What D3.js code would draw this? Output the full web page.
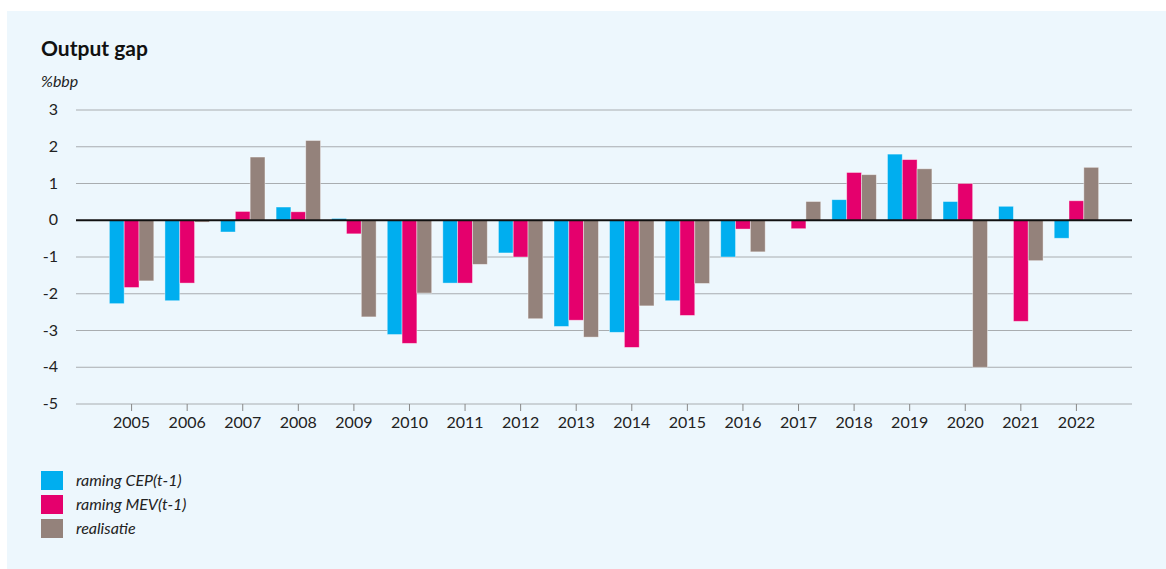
<!DOCTYPE html>
<html lang="nl">
<head>
<meta charset="UTF-8">
<title>Output gap</title>
<script src="https://d3js.org/d3.v7.min.js"></script>
<style>
  body { margin: 0; background: #fff; }
  svg { display: block; font-family: Lato, "Noto Sans", sans-serif; }
</style>
</head>
<body>
<svg width="1166" height="569" id="mainsvg"></svg>
<script>
// data
const years = ['2005','2006','2007','2008','2009','2010','2011','2012','2013','2014','2015','2016','2017','2018','2019','2020','2021','2022'];
const ramingCEP = [-2.27, -2.19, -0.32, 0.36, 0.05, -3.11, -1.71, -0.89, -2.89, -3.05, -2.19, -1.0, 0, 0.56, 1.80, 0.51, 0.38, -0.49];
const ramingMEV = [-1.83, -1.71, 0.24, 0.23, -0.37, -3.35, -1.71, -1.0, -2.72, -3.46, -2.59, -0.24, -0.23, 1.30, 1.65, 1.0, -2.75, 0.53];
const realisatie = [-1.65, -0.05, 1.72, 2.17, -2.63, -1.98, -1.2, -2.68, -3.18, -2.33, -1.72, -0.86, 0.51, 1.24, 1.40, -4.0, -1.10, 1.44];
const seriesNames = ['raming CEP(t-1)', 'raming MEV(t-1)', 'realisatie'];
const colors = ['#00aeef', '#e5006d', '#94827b'];
const yTicks = [3, 2, 1, 0, -1, -2, -3, -4, -5];

const svg = d3.select('#mainsvg');
const width = +svg.attr('width');
const height = +svg.attr('height');

// achtergrondpaneel
svg.append('rect')
  .attr('x', 7).attr('y', 11)
  .attr('width', width - 7).attr('height', height - 11)
  .attr('fill', '#edf7fd');

const margin = {top: 110, right: 34, bottom: 165, left: 76};
const innerWidth = width - margin.left - margin.right;
const innerHeight = 404 - margin.top;

const g = svg.append('g').attr('transform', `translate(${margin.left},${margin.top})`);

const yScale = d3.scaleLinear().domain([-5, 3]).range([innerHeight, 0]);
const xScale = d3.scaleBand().domain(years).range([0, innerWidth]).paddingInner(0).paddingOuter(0.5);
const xSub = d3.scaleBand().domain(d3.range(3)).range([0, xScale.bandwidth() * 0.8]);

// gridlijnen
g.append('g').selectAll('line').data(yTicks.filter(d => d !== 0)).join('line')
  .attr('x1', 0).attr('x2', innerWidth)
  .attr('y1', d => yScale(d)).attr('y2', d => yScale(d))
  .attr('stroke', '#a9adb0').attr('stroke-width', 1);

// y-as labels
g.append('g').selectAll('text').data(yTicks).join('text')
  .attr('x', -18).attr('y', d => yScale(d) + 5)
  .attr('text-anchor', 'end')
  .attr('font-size', 16)
  .attr('fill', '#222')
  .text(d => d);

// x-as
const xAxis = d3.axisBottom(xScale).tickSize(7).tickPadding(6);
const xg = g.append('g').attr('transform', `translate(0,${innerHeight})`).call(xAxis);
xg.select('.domain').remove();
xg.selectAll('.tick line').attr('stroke', '#888');
xg.selectAll('.tick text').attr('font-size', 16).attr('fill', '#222').attr('font-family', 'Lato, "Noto Sans", sans-serif');

// staven
const allSeries = [ramingCEP, ramingMEV, realisatie];
allSeries.forEach((vals, si) => {
  g.append('g').selectAll('rect').data(vals).join('rect')
    .attr('x', (d, i) => xScale(years[i]) + xScale.bandwidth() * 0.1 + xSub(si))
    .attr('width', xSub.bandwidth())
    .attr('y', d => yScale(Math.max(0, d)))
    .attr('height', d => Math.abs(yScale(d) - yScale(0)))
    .attr('fill', colors[si])
    .attr('stroke', '#ffffff')
    .attr('stroke-opacity', 0.5)
    .attr('stroke-width', 0.8);
});

// nullijn
g.append('line')
  .attr('x1', 0).attr('x2', innerWidth)
  .attr('y1', yScale(0)).attr('y2', yScale(0))
  .attr('stroke', '#111').attr('stroke-width', 2);

// titel
svg.append('text').text('Output gap')
  .attr('x', 41).attr('y', 56)
  .attr('font-size', 21).attr('font-weight', 'bold').attr('fill', '#111');

svg.append('text').text('%bbp')
  .attr('x', 41).attr('y', 87)
  .attr('font-size', 16).attr('font-style', 'italic').attr('fill', '#222');

// legenda
const legend = svg.append('g').attr('transform', 'translate(41,471)');
seriesNames.forEach((name, i) => {
  legend.append('rect')
    .attr('x', 0).attr('y', i * 24)
    .attr('width', 22).attr('height', 19)
    .attr('fill', colors[i]);
  legend.append('text')
    .attr('x', 35).attr('y', i * 24 + 15)
    .attr('font-size', 16).attr('font-style', 'italic').attr('fill', '#222')
    .text(name);
});
</script>
</body>
</html>
